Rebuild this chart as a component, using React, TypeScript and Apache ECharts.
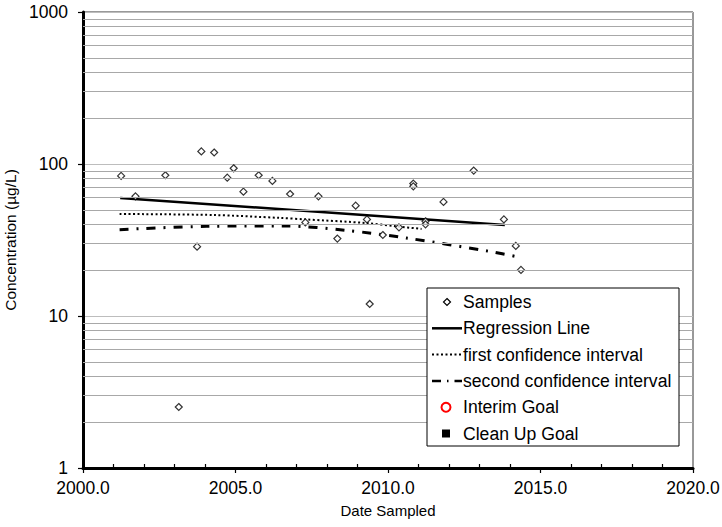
import React, { useEffect, useRef } from "react";
import * as echarts from "echarts";

const xTicks = [2000, 2005, 2010, 2015, 2020];
const yTicks = [1, 10, 100, 1000];
const minorGridValues = [2, 3, 4, 5, 6, 7, 8, 9, 20, 30, 40, 50, 60, 70, 80, 90, 200, 300, 400, 500, 600, 700, 800, 900];

const sampleYears = [2001.25, 2001.72, 2002.7, 2003.14, 2003.74, 2003.88, 2004.3, 2004.73, 2004.94, 2005.26, 2005.76, 2006.21, 2006.79, 2007.29, 2007.72, 2008.34, 2008.94, 2009.31, 2009.4, 2009.83, 2010.36, 2010.83, 2010.83, 2011.23, 2011.23, 2011.82, 2012.81, 2013.8, 2014.19, 2014.36];
const sampleValues = [83.5, 61.3, 84.3, 2.52, 28.6, 121, 119, 81.3, 93.7, 65.8, 84.3, 77.4, 63.5, 41.3, 61.3, 32.3, 53.2, 43.2, 12.0, 34.1, 38.3, 74.3, 71.3, 42.0, 40.1, 56.3, 90.5, 43.2, 28.9, 20.1];

const regressionYears = [2001.22, 2013.83];
const regressionValues = [59.8, 39.7];

const firstCIYears = [2001.2, 2004.26, 2006.45, 2007.3, 2009.29, 2010.28, 2011.1];
const firstCIValues = [46.9, 46.2, 44.2, 43.2, 40.9, 38.9, 37.4];

const secondCIYears = [2001.2, 2004.05, 2006.67, 2008.63, 2010.6, 2013.33, 2014.29];
const secondCIValues = [37.0, 38.9, 39.1, 36.6, 32.6, 26.6, 24.4];

const legendLabels = ["Samples", "Regression Line", "first confidence interval", "second confidence interval", "Interim Goal", "Clean Up Goal"];

const FONT = "'Liberation Sans', Arial, sans-serif";

const zip = (xs: number[], ys: number[]) => xs.map((x, i) => [x, ys[i]]);

export default function App() {
  const ref = useRef<HTMLDivElement>(null);
  useEffect(() => {
    if (!ref.current) return;
    const chart = echarts.init(ref.current, undefined, { renderer: "svg" });

    const lx = 427, ly = 288, lw = 252, lh = 158;
    const rowY = (i: number) => ly + 14 + i * 26.3;
    const iconL = 432, iconR = 462, textX = 463;
    const legendGraphics: any[] = [
      { type: "rect", shape: { x: lx, y: ly, width: lw, height: lh }, style: { fill: "#fff", stroke: "#000", lineWidth: 1 }, z: 100 },
      { type: "polygon", shape: { points: [[447, rowY(0) - 3.5], [450.5, rowY(0)], [447, rowY(0) + 3.5], [443.5, rowY(0)]] }, style: { fill: "#fff", stroke: "#000", lineWidth: 1.2 }, z: 101 },
      { type: "line", shape: { x1: iconL, y1: rowY(1), x2: iconR, y2: rowY(1) }, style: { stroke: "#000", lineWidth: 2.5 }, z: 101 },
      { type: "line", shape: { x1: iconL, y1: rowY(2), x2: iconR, y2: rowY(2) }, style: { stroke: "#000", lineWidth: 2, lineDash: [2, 2.5] }, z: 101 },
      { type: "line", shape: { x1: iconL, y1: rowY(3), x2: iconR, y2: rowY(3) }, style: { stroke: "#000", lineWidth: 2.5, lineDash: [9, 6, 1.5, 6] }, z: 101 },
      { type: "circle", shape: { cx: 446, cy: rowY(4), r: 4.5 }, style: { fill: "#fff", stroke: "#ff0000", lineWidth: 2 }, z: 101 },
      { type: "rect", shape: { x: 442, y: rowY(5) - 4, width: 8, height: 8 }, style: { fill: "#000" }, z: 101 },
      ...legendLabels.map((t, i) => ({
        type: "text",
        x: textX,
        y: rowY(i),
        style: { text: t, fill: "#000", font: `17.6px ${FONT}`, textVerticalAlign: "middle", textAlign: "left" },
        z: 101,
      })),
    ];

    chart.setOption({
      animation: false,
      backgroundColor: "#fff",
      textStyle: { fontFamily: FONT },
      grid: { left: 83, top: 12, right: 29, bottom: 59, containLabel: false, outerBoundsMode: "none", show: true, borderColor: "#333", borderWidth: 1, backgroundColor: "transparent" },
      xAxis: {
        type: "value",
        min: xTicks[0],
        max: xTicks[xTicks.length - 1],
        interval: 5,
        name: "Date Sampled",
        nameLocation: "middle",
        nameGap: 35,
        nameTextStyle: { fontSize: 15, color: "#000", fontFamily: FONT },
        axisLine: { show: true, lineStyle: { color: "#000", width: 3 } },
        axisTick: { show: true, length: 5, lineStyle: { color: "#000", width: 1.2 } },
        minorTick: { show: true, splitNumber: 5, length: -4, lineStyle: { color: "#000", width: 1.2 } },
        axisLabel: { fontSize: 17.5, color: "#000", margin: 11, fontFamily: FONT, formatter: (v: number) => v.toFixed(1) },
        splitLine: { show: false },
        minorSplitLine: { show: false },
      },
      yAxis: {
        type: "log",
        logBase: 10,
        min: yTicks[0],
        max: yTicks[yTicks.length - 1],
        name: "Concentration (µg/L)",
        nameLocation: "middle",
        nameGap: 54,
        nameTextStyle: { fontSize: 15.5, color: "#000", fontFamily: FONT },
        axisLine: { show: true, lineStyle: { color: "#000", width: 3 } },
        axisTick: { show: true, length: 5, lineStyle: { color: "#000", width: 1.2 } },
        axisLabel: { fontSize: 17.5, color: "#000", margin: 15, fontFamily: FONT, formatter: (v: number) => String(Math.round(v)) },
        splitLine: { show: true, lineStyle: { color: "#bdbdbd", width: 1 } },
      },
      series: [
        {
          type: "line",
          name: "grid",
          data: [],
          silent: true,
          z: 1,
          markLine: {
            silent: true,
            symbol: ["none", "none"],
            label: { show: false },
            lineStyle: { color: "#a8a8a8", type: "solid", width: 1 },
            data: minorGridValues.map((v) => ({ yAxis: v })),
          },
        },
        {
          type: "line",
          name: "Regression Line",
          data: zip(regressionYears, regressionValues),
          symbol: "none",
          lineStyle: { color: "#000", width: 2.5 },
          z: 3,
        },
        {
          type: "line",
          name: "first confidence interval",
          data: zip(firstCIYears, firstCIValues),
          symbol: "none",
          smooth: 0.3,
          lineStyle: { color: "#000", width: 2, type: [2, 2.5] },
          z: 3,
        },
        {
          type: "line",
          name: "second confidence interval",
          data: zip(secondCIYears, secondCIValues),
          symbol: "none",
          smooth: 0.3,
          lineStyle: { color: "#000", width: 3, type: [9, 8, 2, 8] },
          z: 3,
        },
        {
          type: "scatter",
          name: "Samples",
          data: zip(sampleYears, sampleValues),
          symbol: "diamond",
          symbolSize: 7,
          itemStyle: { color: "#fff", borderColor: "#000", borderWidth: 1.2 },
          z: 4,
        },
      ],
      graphic: legendGraphics,
    });
    return () => chart.dispose();
  }, []);
  return <div ref={ref} style={{ position: "fixed", left: 0, top: 0, width: 722, height: 527 }} />;
}
